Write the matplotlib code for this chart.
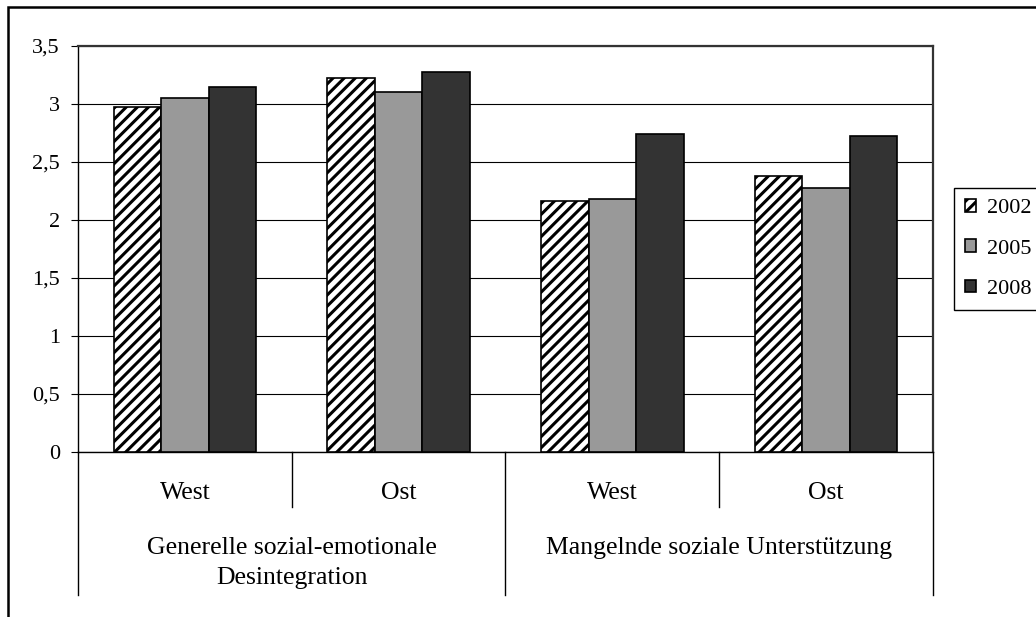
import matplotlib
matplotlib.use("Agg")
import matplotlib.pyplot as plt
import matplotlib.patches as patches
import matplotlib.transforms as mtransforms
import numpy as np

# --- data ---
regions = ["West", "Ost", "West", "Ost"]
groups = ["Generelle sozial-emotionale\nDesintegration", "Mangelnde soziale Unterstützung"]
years = ["2002", "2005", "2008"]
values_2002 = [2.97, 3.22, 2.16, 2.38]
values_2005 = [3.05, 3.10, 2.18, 2.28]
values_2008 = [3.15, 3.28, 2.74, 2.72]
y_ticks = [0, 0.5, 1, 1.5, 2, 2.5, 3, 3.5]
y_tick_labels = ["0", "0,5", "1", "1,5", "2", "2,5", "3", "3,5"]

plt.rcParams['font.family'] = ['Liberation Serif', 'DejaVu Serif']
plt.rcParams['hatch.linewidth'] = 2.2
plt.rcParams['hatch.color'] = 'black'

fig = plt.figure(figsize=(10.36, 6.17), dpi=100)
fig.patch.set_facecolor('white')
ax = fig.add_axes([78 / 1036, 1 - 452 / 617, 855 / 1036, 406 / 617])

x = np.arange(len(regions))
width = 1 / 4.5
series = [values_2002, values_2005, values_2008]
styles = [dict(facecolor='white', hatch='///'),
          dict(facecolor='#999999'),
          dict(facecolor='#333333')]
handles = []
for i, (vals, st) in enumerate(zip(series, styles)):
    b = ax.bar(x + (i - 1) * width, vals, width, edgecolor='black', linewidth=1.2,
               zorder=3, label=years[i], **st)
    handles.append(b)

ax.set_xlim(-0.5, len(regions) - 0.5)
ax.set_ylim(0, 3.5)
ax.set_yticks(y_ticks)
ax.set_yticklabels(y_tick_labels)
ax.tick_params(axis='y', length=5, width=0.8, pad=8, labelsize=16, color='black')
ax.set_xticks([])
ax.yaxis.grid(True, color='black', linewidth=0.8, zorder=0)
ax.set_axisbelow(True)

for side in ['top', 'right']:
    ax.spines[side].set_color('#333333')
    ax.spines[side].set_linewidth(1.6)
ax.spines['left'].set_linewidth(1.0)
ax.spines['bottom'].set_linewidth(1.0)

# category axis: region labels, group labels and separators
trans = mtransforms.blended_transform_factory(ax.transData, ax.transAxes)
for xi, name in zip(x, regions):
    ax.text(xi, -0.1, name, transform=trans, ha='center', va='center', fontsize=18.5)

n_per_group = len(regions) // len(groups)
for gi, name in enumerate(groups):
    xc = gi * n_per_group + (n_per_group - 1) / 2
    ax.text(xc, -0.21, name, transform=trans, ha='center', va='top', fontsize=18.5,
            linespacing=1.45)

for xb in np.arange(-0.5, len(regions), 1.0):
    outer = int(round(xb + 0.5)) % n_per_group == 0
    y_end = -0.352 if outer else -0.135
    ax.plot([xb, xb], [0, y_end], transform=trans, color='black', linewidth=1.0,
            clip_on=False)

# legend
leg = fig.legend(handles=handles, labels=years, loc='center left',
                 bbox_to_anchor=(954 / 1036, 1 - 249 / 617), fontsize=16,
                 frameon=True, fancybox=False, edgecolor='black', framealpha=1,
                 handlelength=0.5, handleheight=0.5, handletextpad=0.5,
                 borderpad=0.5, labelspacing=0.95, borderaxespad=0)
leg.get_frame().set_linewidth(1.0)

# outer frame
frame = patches.Rectangle((8.3 / 1036, -0.1), 1.2, 1.1 - 6.5 / 617, transform=fig.transFigure,
                          fill=False, edgecolor='black', linewidth=1.8)
fig.patches.append(frame)

plt.savefig("out.png", dpi=100, facecolor='white')
